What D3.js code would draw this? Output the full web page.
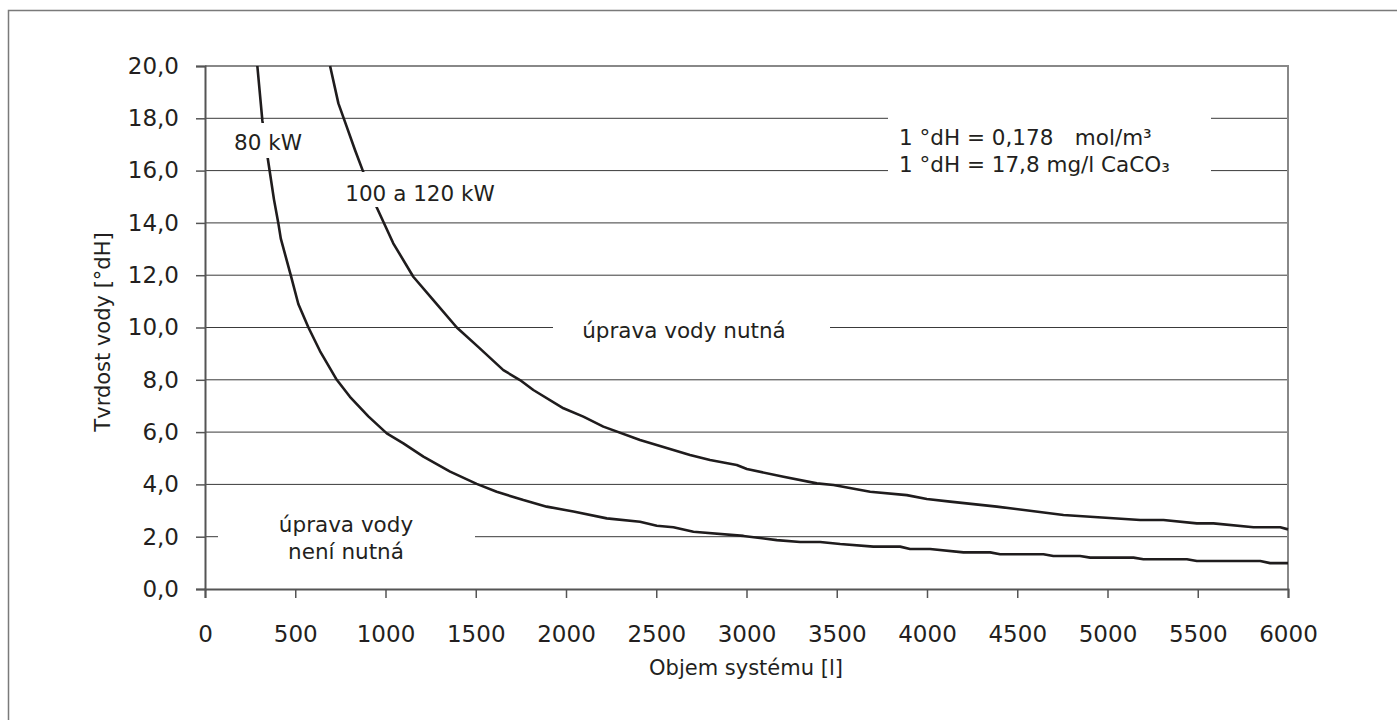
<!DOCTYPE html>
<html>
<head>
  <meta charset="utf-8">
  <title>Tvrdost vody</title>
  <script src="https://d3js.org/d3.v7.min.js"></script>
  <style>
    body { margin: 0; background: #fff; }
    svg { display: block; font-family: "DejaVu Sans", sans-serif; }
  </style>
</head>
<body>
  <svg width="1397" height="720"></svg>
  <script>
    // data
    var vol80 = [290, 318, 347, 382, 406, 420, 475, 517, 573, 637, 730, 803, 905, 1007, 1099, 1210, 1358, 1505, 1616, 1764, 1893, 2041, 2226, 2410, 2503, 2595, 2706, 2983, 3168, 3297, 3408, 3519, 3703, 3851, 3906, 4017, 4202, 4350, 4405, 4645, 4700, 4848, 4904, 5144, 5199, 5440, 5495, 5846, 5901, 6000];
    var hard80 = [20.0, 17.9, 16.5, 14.9, 14.0, 13.4, 12.0, 10.9, 10.0, 9.1, 8.0, 7.35, 6.6, 5.95, 5.57, 5.06, 4.49, 4.02, 3.72, 3.40, 3.15, 2.96, 2.70, 2.57, 2.42, 2.36, 2.19, 2.03, 1.87, 1.80, 1.80, 1.72, 1.62, 1.62, 1.53, 1.53, 1.40, 1.40, 1.33, 1.33, 1.26, 1.26, 1.20, 1.20, 1.14, 1.14, 1.07, 1.07, 0.99, 0.99];
    var vol120 = [693, 739, 785, 831, 874, 951, 1043, 1154, 1265, 1395, 1515, 1653, 1745, 1819, 1986, 2096, 2207, 2410, 2687, 2798, 2946, 3002, 3205, 3390, 3482, 3685, 3888, 3999, 4128, 4387, 4756, 5181, 5310, 5495, 5587, 5809, 5957, 6000];
    var hard120 = [20.0, 18.57, 17.68, 16.79, 16.0, 14.6, 13.22, 11.94, 11.05, 10.0, 9.25, 8.37, 7.99, 7.61, 6.91, 6.59, 6.21, 5.70, 5.12, 4.93, 4.74, 4.59, 4.29, 4.04, 3.98, 3.72, 3.59, 3.44, 3.34, 3.15, 2.83, 2.64, 2.64, 2.51, 2.51, 2.36, 2.36, 2.28];
    var xTicks = [0, 500, 1000, 1500, 2000, 2500, 3000, 3500, 4000, 4500, 5000, 5500, 6000];
    var yTicks = [0, 2, 4, 6, 8, 10, 12, 14, 16, 18, 20];

    var svg = d3.select("svg");
    var margin = { top: 66, left: 205 };
    var width = 1083, height = 523;
    var ink = "#231f20";

    // outer frame
    svg.append("rect")
      .attr("x", 8.5).attr("y", 10.5)
      .attr("width", 1420).attr("height", 730)
      .attr("fill", "none").attr("stroke", "#7a7a7a").attr("stroke-width", 1.5);

    var g = svg.append("g").attr("transform", "translate(" + margin.left + "," + margin.top + ")");
    var x = d3.scaleLinear().domain([0, 6000]).range([0, width]);
    var y = d3.scaleLinear().domain([0, 20]).range([height, 0]);
    var fmt = function (d) { return d3.format(".1f")(d).replace(".", ","); };

    // gridlines
    g.selectAll(".grid")
      .data(yTicks.filter(function (d) { return d > 0 && d < 20; }))
      .enter().append("line")
      .attr("class", "grid")
      .attr("x1", 0).attr("x2", width)
      .attr("y1", function (d) { return y(d); })
      .attr("y2", function (d) { return y(d); })
      .attr("stroke", "#3a3a3a").attr("stroke-width", 1);

    // plot border top / right
    g.append("path")
      .attr("d", "M0," + y(20) + "H" + width + "V" + height)
      .attr("fill", "none").attr("stroke", "#888").attr("stroke-width", 2);

    // curves
    var line = d3.line()
      .x(function (d) { return x(d[0]); })
      .y(function (d) { return y(d[1]); });
    [[vol80, hard80], [vol120, hard120]].forEach(function (s) {
      g.append("path")
        .datum(d3.zip(s[0], s[1]))
        .attr("fill", "none")
        .attr("stroke", "#1f1c1d")
        .attr("stroke-width", 2.6)
        .attr("stroke-linejoin", "round")
        .attr("d", line);
    });

    // labels with white background
    var labels = [
      { lines: ["80 kW"], x: 268, y: 150, anchor: "middle", box: [226, 123, 84, 35] },
      { lines: ["100 a 120 kW"], x: 420, y: 201, anchor: "middle", box: [340, 172, 160, 35] },
      { lines: ["úprava vody nutná"], x: 684, y: 338, anchor: "middle", box: [553, 315, 277, 30] },
      { lines: ["úprava vody", "není nutná"], x: 346, y: 532, anchor: "middle", box: [218, 508, 257, 58] },
      { lines: ["1 °dH = 0,178\u2002\u2002mol/m³", "1 °dH = 17,8 mg/l CaCO₃"], x: 899, y: 145, anchor: "start", box: [888, 112, 323, 68] }
    ];
    labels.forEach(function (l) {
      svg.append("rect")
        .attr("x", l.box[0]).attr("y", l.box[1])
        .attr("width", l.box[2]).attr("height", l.box[3])
        .attr("fill", "#fff");
      var t = svg.append("text")
        .attr("x", l.x).attr("y", l.y)
        .attr("text-anchor", l.anchor)
        .attr("font-size", 21.5)
        .attr("fill", ink);
      l.lines.forEach(function (s, i) {
        t.append("tspan").attr("x", l.x).attr("dy", i === 0 ? 0 : 27).text(s);
      });
    });

    // axes
    var ax = g.append("g")
      .attr("transform", "translate(0," + height + ")")
      .call(d3.axisBottom(x).tickValues(xTicks).tickSize(9).tickPadding(28).tickFormat(d3.format("d")));
    var ay = g.append("g")
      .call(d3.axisLeft(y).tickValues(yTicks).tickSize(9).tickPadding(17).tickFormat(fmt));
    [ax, ay].forEach(function (a) {
      a.attr("font-family", null);
      a.selectAll("text").attr("font-size", 23).attr("fill", ink);
      a.selectAll("line").attr("stroke", "#555").attr("stroke-width", 1.5);
      a.select(".domain").attr("stroke", "#555").attr("stroke-width", 2);
    });

    // axis titles
    svg.append("text")
      .attr("x", 746).attr("y", 675)
      .attr("text-anchor", "middle")
      .attr("font-size", 21).attr("fill", ink)
      .text("Objem systému [l]");
    svg.append("text")
      .attr("transform", "translate(110,332) rotate(-90)")
      .attr("text-anchor", "middle")
      .attr("font-size", 21).attr("fill", ink)
      .text("Tvrdost vody [°dH]");
  </script>
</body>
</html>
